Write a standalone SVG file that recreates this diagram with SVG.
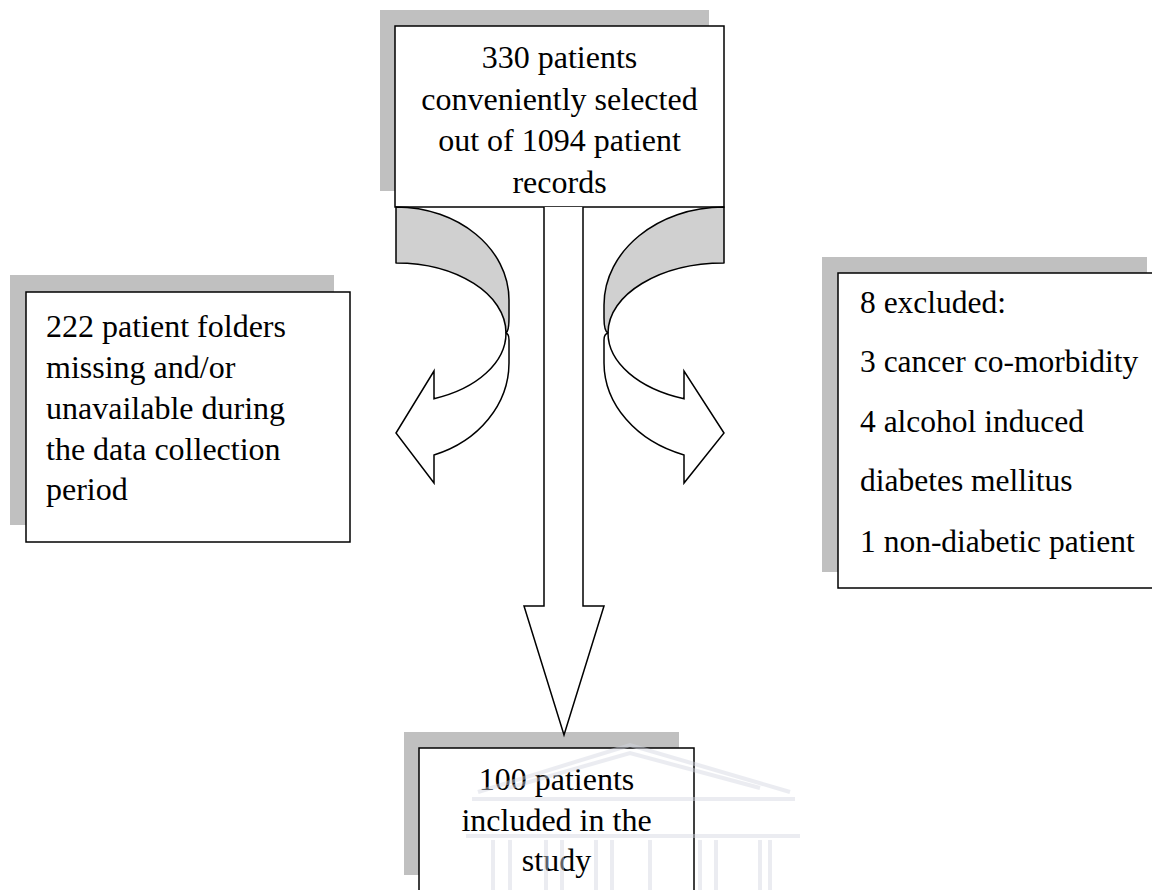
<svg xmlns="http://www.w3.org/2000/svg" width="1152" height="890" viewBox="0 0 1152 890">
<style>
.shadow{fill:#c0c0c0;stroke:none}
.box{fill:#ffffff;stroke:#000000;stroke-width:1.5}
.t{font-family:"Liberation Serif","Times New Roman",serif;font-size:32px;fill:#000000}
.tc{text-anchor:middle}
.back{fill:#d0d0d0;stroke:#000000;stroke-width:1.5;stroke-linejoin:round}
.front{fill:#ffffff;stroke:#000000;stroke-width:1.5;stroke-linejoin:miter}
.wm{fill:none;stroke:#d3d7e2;stroke-width:4}
</style>
<rect width="1152" height="890" fill="#ffffff"/>

<g id="node-top">
<rect class="shadow" x="380" y="10" width="329" height="181"/>
<rect class="box" x="395" y="26" width="329" height="181"/>
<text class="t tc" x="559.5" y="68">330 patients</text>
<text class="t tc" x="559.5" y="110">conveniently selected</text>
<text class="t tc" x="559.5" y="151">out of 1094 patient</text>
<text class="t tc" x="559.5" y="193">records</text>
</g>

<g id="node-missing">
<rect class="shadow" x="10" y="275" width="324" height="250"/>
<rect class="box" x="26" y="292" width="324" height="250"/>
<text class="t" x="46" y="337">222 patient folders</text>
<text class="t" x="46" y="378">missing and/or</text>
<text class="t" x="46" y="419">unavailable during</text>
<text class="t" x="46" y="460">the data collection</text>
<text class="t" x="46" y="500">period</text>
</g>

<g id="node-excluded">
<rect class="shadow" x="822" y="257" width="325" height="315"/>
<rect class="box" x="838" y="273" width="325" height="315"/>
<text class="t" x="860" y="313" style="font-size:31.5px">8 excluded:</text>
<text class="t" x="860" y="372" style="font-size:31.5px">3 cancer co-morbidity</text>
<text class="t" x="860" y="432" style="font-size:31.5px">4 alcohol induced</text>
<text class="t" x="860" y="491" style="font-size:31.5px">diabetes mellitus</text>
<text class="t" x="860" y="552" style="font-size:31.5px">1 non-diabetic patient</text>
</g>

<g id="node-included">
<rect class="shadow" x="404" y="732" width="275" height="143"/>
<rect class="box" x="419" y="748" width="275" height="150"/>
<text class="t tc" x="556.5" y="790">100 patients</text>
<text class="t tc" x="556.5" y="831">included in the</text>
<text class="t tc" x="556.5" y="871">study</text>
</g>

<g id="connectors">
<g id="arrow-left">
<path class="back" d="M396,207 C458.4,207 509,248.6 509,300 L509,318 Q509,331 506,333 C506,294.3 456.8,263 396,263 Z"/>
<path class="front" d="M506,333 A110,70 0 0 1 434,398.7 L434,371 L396,433 L434,483 L434,455 A113,98 0 0 0 509,363 L509,340 Q509,334 506,333 Z"/>
</g>
<g id="arrow-right">
<path class="back" d="M724,207 C657.7,207 604,250.9 604,305 L604,318 Q604,331 608,333 C608,294.3 659.9,263 724,263 Z"/>
<path class="front" d="M608,333 A116,70 0 0 0 684,398.7 L684,371 L724,433 L684,483 L684,455 A120,98 0 0 1 604,363 L604,340 Q604,334 608,333 Z"/>
</g>
<path id="arrow-down" class="front" d="M544,207 L544,606 L524,606 L564,735 L604,606 L583,606 L583,207"/>
</g>

<g id="watermark" opacity="0.45">
<polyline class="wm" points="478,792 630,745 790,792" stroke-width="5"/>
<polyline class="wm" points="508,788 630,753 760,788" stroke-width="2"/>
<line class="wm" x1="472" y1="799" x2="795" y2="799" stroke-width="9"/>
<line class="wm" x1="466" y1="836" x2="800" y2="836" stroke-width="5"/>
<g stroke-width="4">
<line class="wm" x1="493" y1="840" x2="493" y2="890"/>
<line class="wm" x1="510" y1="840" x2="510" y2="890"/>
<line class="wm" x1="546" y1="840" x2="546" y2="890"/>
<line class="wm" x1="562" y1="840" x2="562" y2="890"/>
<line class="wm" x1="596" y1="840" x2="596" y2="890"/>
<line class="wm" x1="612" y1="840" x2="612" y2="890"/>
<line class="wm" x1="650" y1="840" x2="650" y2="890"/>
<line class="wm" x1="700" y1="840" x2="700" y2="890"/>
<line class="wm" x1="716" y1="840" x2="716" y2="890"/>
<line class="wm" x1="760" y1="840" x2="760" y2="890"/>
<line class="wm" x1="770" y1="840" x2="770" y2="890"/>
</g>
</g>
</svg>
